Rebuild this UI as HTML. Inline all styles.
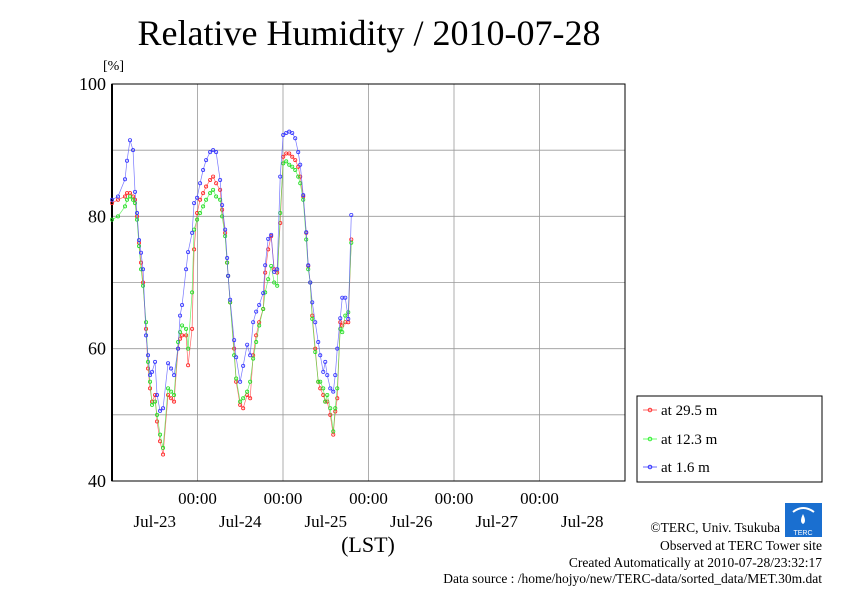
<!DOCTYPE html>
<html><head><meta charset="utf-8"><style>
body{margin:0;background:#fff}
svg{display:block;font-family:"Liberation Serif",serif}
</style></head><body>
<svg id="chart" width="842" height="595" viewBox="0 0 842 595" xmlns="http://www.w3.org/2000/svg">
<rect width="842" height="595" fill="#fff"/>
<text x="369" y="45" font-size="36" text-anchor="middle">Relative Humidity / 2010-07-28</text>
<text x="103" y="70" font-size="14">[%]</text>
<g id="grid"></g>
<g id="axes"></g>
<g id="series"></g>
<text x="368" y="552" font-size="22" text-anchor="middle">(LST)</text>
<g>
<rect x="637" y="396" width="185" height="86" fill="#fff" stroke="#000" stroke-width="1"/>
<g><line x1="643" y1="410" x2="657" y2="410" stroke="#f44" stroke-width="0.8"/><circle cx="650" cy="410" r="1.8" fill="none" stroke="#f33"/><text x="661" y="415" font-size="15">at 29.5 m</text></g>
<g><line x1="643" y1="439" x2="657" y2="439" stroke="#4f4" stroke-width="0.8"/><circle cx="650" cy="439" r="1.8" fill="none" stroke="#3e3"/><text x="661" y="444" font-size="15">at 12.3 m</text></g>
<g><line x1="643" y1="467" x2="657" y2="467" stroke="#44f" stroke-width="0.8"/><circle cx="650" cy="467" r="1.8" fill="none" stroke="#33f"/><text x="661" y="472" font-size="15">at 1.6 m</text></g>
</g>
<g>
<rect x="785" y="503" width="37" height="34" fill="#1a6fd0"/>
<path d="M793 512 q10 -8 21 0" fill="none" stroke="#fff" stroke-width="2"/>
<path d="M803 514 q-4 8 0 10 q4 -2 0 -10" fill="#fff"/>
<text x="803" y="535" font-size="7" fill="#fff" text-anchor="middle" font-family="Liberation Sans,sans-serif">TERC</text>
</g>
<g font-size="13.5" text-anchor="end">
<text x="780" y="532">©TERC, Univ. Tsukuba</text>
<text x="822" y="550">Observed at TERC Tower site</text>
<text x="822" y="567">Created Automatically at 2010-07-28/23:32:17</text>
<text x="822" y="583">Data source : /home/hojyo/new/TERC-data/sorted_data/MET.30m.dat</text>
</g>
</svg>
<script>
const xPix=[112,118,125,127,130,133,135,137,139,141,143,146,148,150,152,155,157,160,163,168,171,174,178,180,182,186,188,192,194,197,200,203,206,210,213,216,220,222,225,227,228,230,234,236,240,243,247,250,253,256,259,263,265,268,271,274,277,280,283,286,289,292,295,298,300,303,306,308,310,312,315,318,320,323,325,327,330,333,335,337,340,342,345,348,351];
const hours=xPix.map(p=>(p-112)/85.4*24);
const blue=[82.5,83,85.6,88.4,91.5,90,83.7,80.5,76.4,74.5,72,62,59,56,56.5,58,53,50.6,51,57.8,57,56,60,65,66.6,72,74.6,77.5,82,82.8,85,87,88.5,89.7,90,89.7,85.5,81.7,78,73.7,71,67.4,61.3,58.7,55,57.4,60.6,59,64,65.6,66.6,68.4,72.6,76.6,77.2,71.6,72,86,92.3,92.6,92.8,92.6,91.8,89.7,87.8,83.2,77.6,72.6,70,67,64,61,59,56.5,58,56,54,53.5,56,60,64.6,67.7,67.7,64.5,80.2];
const red=[82,82.5,83,83.5,83.5,83,82.5,80,76,73,70,63,57,54,52,53,49,46,44,53,52.5,52,60,61.5,62,62,57.5,63,75,80.5,82.5,83.5,84.5,85.5,86,85,84,81,77.5,73,71,67,60,55,51.5,51,53,52.5,59,62,64,66,71.5,75,77,72,71.5,79,89,89.5,89.5,89,88.5,87.5,86,83,77.5,72.5,70,65,60,55,54,53,52,52,50,47,50.5,52.5,64,63.5,64,64,76.5];
const green=[79.5,80,81.5,82.5,83,82.5,82,79.5,75.5,72,69.5,64,58,55,51.5,52,50,47,45,54,53.5,53,61,62.5,63.5,63,60,68.5,78,79.5,80.5,81.5,82.5,83.5,84,83,82.5,80,77,73,71,67,59,55.5,52,52.5,53.5,55,58.5,61,63.5,66,68.5,70.5,72.5,70,69.5,80.5,88,88.3,87.8,87.5,87,86,85,82.5,76.5,72,70,64.5,59.5,55,55,54,52,53,51,47.5,51,54,63,62.5,65,65.5,76];
const yTicks=[40,60,80,100];
const yGrid=[50,60,70,80,90];
const timeTicks=["00:00","00:00","00:00","00:00","00:00"];
const dayLabels=["Jul-23","Jul-24","Jul-25","Jul-26","Jul-27","Jul-28"];
const NS="http://www.w3.org/2000/svg";
const L=112,R=625,T=84,B=481;
const xs=h=>L+h/144*(R-L);
const ys=v=>B-(v-40)/60*(B-T);
function mk(tag,attrs,parent){const e=document.createElementNS(NS,tag);for(const k in attrs)e.setAttribute(k,attrs[k]);parent.appendChild(e);return e;}
const grid=document.getElementById('grid'),axes=document.getElementById('axes'),ser=document.getElementById('series');
yGrid.forEach(v=>{const l=mk('line',{x1:L,x2:R,y1:ys(v),y2:ys(v),stroke:'#999','stroke-width':0.8},grid);

});
timeTicks.forEach((t,i)=>{const x=xs((i+1)*24);
const l=mk('line',{x1:x,x2:x,y1:T,y2:B,stroke:'#999','stroke-width':0.8},grid);


const tx=mk('text',{x:x,y:504,'font-size':17,'text-anchor':'middle'},axes);tx.textContent=t;

});
dayLabels.forEach((d,i)=>{const tx=mk('text',{x:xs(i*24+12),y:527,'font-size':17,'text-anchor':'middle'},axes);tx.textContent=d;

});
yTicks.forEach(v=>{const tx=mk('text',{x:106,y:ys(v)+6,'font-size':18,'text-anchor':'end'},axes);tx.textContent=v;

});
const fr=mk('rect',{x:L,y:T,width:R-L,height:B-T,fill:'none',stroke:'#000','stroke-width':1},axes);


mk('line',{x1:L,x2:L,y1:T,y2:B,stroke:'#000','stroke-width':2},axes);
[[red,'#f44','#f22','series-29m'],[green,'#4e4','#2d2','series-12m'],[blue,'#55f','#33f','series-1m']].forEach(([vals,lc,pc,name])=>{
const g=mk('g',{},ser);


mk('polyline',{points:vals.map((v,i)=>xs(hours[i])+','+ys(v)).join(' '),fill:'none',stroke:lc,'stroke-width':0.7,'stroke-opacity':0.8},g);
vals.forEach((v,i)=>{const c=mk('circle',{cx:xs(hours[i]),cy:ys(v),r:1.6,fill:'none',stroke:pc,'stroke-width':0.8},g);

});
});
</script>
</body></html>
